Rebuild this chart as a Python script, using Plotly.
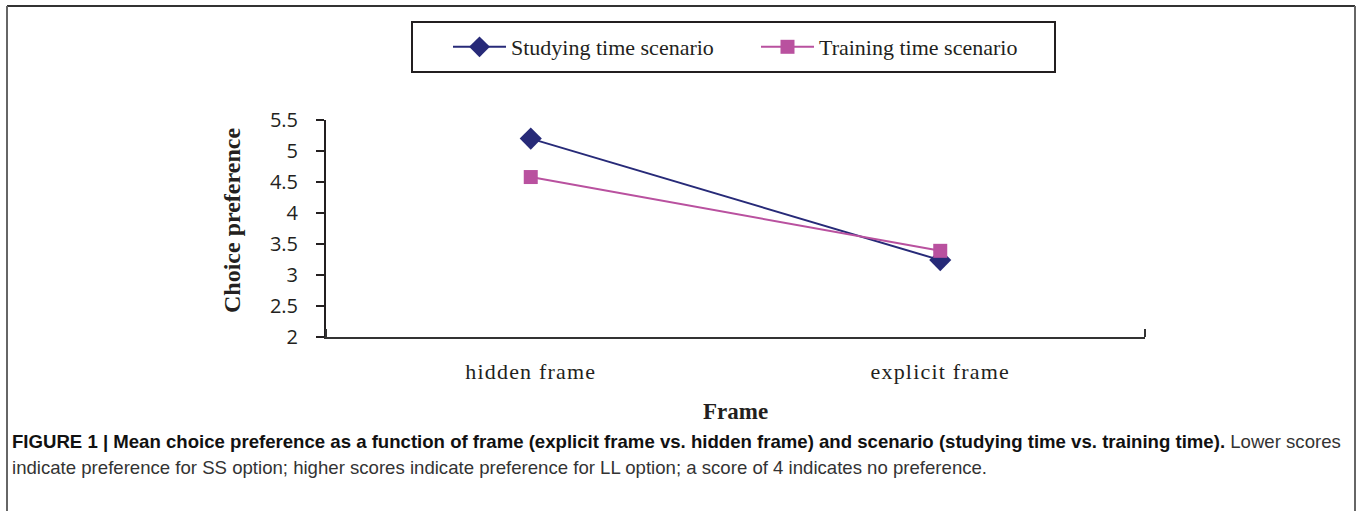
import plotly.graph_objects as go

W, H = 1357, 511

categories = ["hidden frame", "explicit frame"]
studying = [5.2, 3.24]
training = [4.58, 3.39]
y_ticks = [2, 2.5, 3, 3.5, 4, 4.5, 5, 5.5]
y_tick_labels = ["2", "2.5", "3", "3.5", "4", "4.5", "5", "5.5"]
series_names = ["Studying time scenario", "Training time scenario"]
x_title = "Frame"
y_title = "Choice preference"
caption_bold = ("FIGURE 1 | Mean choice preference as a function of frame (explicit frame vs. "
                "hidden frame) and scenario (studying time vs. training time).")
caption_line1_rest = " Lower scores"
caption_line2 = ("indicate preference for SS option; higher scores indicate preference for LL option; "
                 "a score of 4 indicates no preference.")

NAVY = "#272A78"
PINK = "#B9519F"

def px(x):
    return x / W

def py(y):
    return 1 - y / H

x_pos = [i + 0.5 for i in range(len(categories))]
x_bounds = [0, len(categories)]

fig = go.Figure()
fig.add_trace(go.Scatter(
    x=x_pos, y=studying, name=series_names[0], mode="lines+markers",
    line=dict(color=NAVY, width=2),
    marker=dict(symbol="diamond", size=17, color=NAVY),
))
fig.add_trace(go.Scatter(
    x=x_pos, y=training, name=series_names[1], mode="lines+markers",
    line=dict(color=PINK, width=2),
    marker=dict(symbol="square", size=14, color=PINK),
))

serif = "Liberation Serif, Times New Roman, serif"
sans = "Open Sans, Liberation Sans, sans-serif"
cap_font = "Liberation Sans, Arial, sans-serif"

spaced = ["<span style='letter-spacing:1.2px'>" + c + "</span>" for c in categories]

fig.update_layout(
    width=W, height=H,
    margin=dict(l=0, r=0, t=0, b=0, autoexpand=False),
    paper_bgcolor="white", plot_bgcolor="white",
    showlegend=True,
    xaxis=dict(
        domain=[px(326), px(1145)], range=x_bounds,
        tickvals=x_pos, ticktext=spaced, ticks="",
        tickfont=dict(family=serif, size=22, color="#231F20"),
        ticklabelstandoff=14,
        minor=dict(tickvals=x_bounds, ticks="inside", ticklen=8, tickwidth=2, tickcolor="#333333"),
        showline=True, linecolor="#333333", linewidth=2,
        showgrid=False, zeroline=False, fixedrange=True,
    ),
    yaxis=dict(
        domain=[py(337), py(120)], range=[2, 5.5],
        tickvals=y_ticks, ticktext=y_tick_labels,
        ticks="outside", ticklen=8, tickwidth=2, tickcolor="#231F20",
        tickfont=dict(family=sans, size=20, color="#231F20"),
        ticklabelstandoff=14,
        showline=True, linecolor="#231F20", linewidth=2,
        showgrid=False, zeroline=False, fixedrange=True,
    ),
    legend=dict(
        orientation="h", x=px(448), y=py(47), xanchor="left", yanchor="middle",
        font=dict(family=serif, size=22, color="#231F20"),
        bgcolor="rgba(0,0,0,0)", borderwidth=0,
        itemwidth=53,
        entrywidth=240, entrywidthmode="pixels",
    ),
    shapes=[
        # outer figure frame
        dict(type="line", xref="paper", yref="paper", x0=px(7), x1=px(1355), y0=py(6), y1=py(6),
             line=dict(color="#333333", width=2)),
        dict(type="line", xref="paper", yref="paper", x0=px(7), x1=px(7), y0=py(6), y1=py(515),
             line=dict(color="#666666", width=2)),
        dict(type="line", xref="paper", yref="paper", x0=px(1355), x1=px(1355), y0=py(6), y1=py(515),
             line=dict(color="#666666", width=2)),
        # legend box
        dict(type="rect", xref="paper", yref="paper", x0=px(412), x1=px(1055), y0=py(72), y1=py(22),
             line=dict(color="#231F20", width=2)),
    ],
    annotations=[
        dict(text="<b>" + y_title + "</b>", textangle=-90, xref="paper", yref="paper",
             x=px(232), y=py(221), xanchor="center", yanchor="middle", showarrow=False,
             font=dict(family=serif, size=24, color="#231F20")),
        dict(text="<b>" + x_title + "</b>", xref="paper", yref="paper",
             x=px(735), y=py(411), xanchor="center", yanchor="middle", showarrow=False,
             font=dict(family=serif, size=23, color="#231F20")),
        dict(text="<b>" + caption_bold + "</b>" + "<span style='color:#333333'>" + caption_line1_rest + "</span>",
             xref="paper", yref="paper", x=px(10), y=py(441), xanchor="left", yanchor="middle",
             showarrow=False, font=dict(family=cap_font, size=18.6, color="#111111")),
        dict(text=caption_line2, xref="paper", yref="paper", x=px(10), y=py(467),
             xanchor="left", yanchor="middle", showarrow=False,
             font=dict(family=cap_font, size=18.6, color="#333333")),
    ],
)

fig.write_html("out.html", config={"displayModeBar": False},
               post_script="document.body.style.margin='0px';document.body.style.overflow='hidden';")
